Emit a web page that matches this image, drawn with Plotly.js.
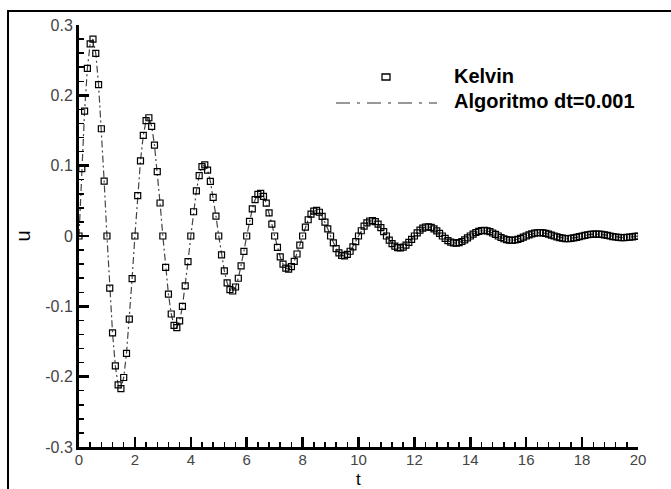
<!DOCTYPE html>
<html>
<head>
<meta charset="utf-8">
<script src="https://cdn.plot.ly/plotly-3.0.1.min.js"></script>
<style>html,body{margin:0;padding:0;background:#fff;}#chart{width:671px;height:489px;}</style>
</head>
<body>
<div id="chart"></div>
<script>
const tValues = [
0,0.1,0.2,0.3,0.4,0.5,0.6,0.7,0.8,0.9,
1,1.1,1.2,1.3,1.4,1.5,1.6,1.7,1.8,1.9,
2,2.1,2.2,2.3,2.4,2.5,2.6,2.7,2.8,2.9,
3,3.1,3.2,3.3,3.4,3.5,3.6,3.7,3.8,3.9,
4,4.1,4.2,4.3,4.4,4.5,4.6,4.7,4.8,4.9,
5,5.1,5.2,5.3,5.4,5.5,5.6,5.7,5.8,5.9,
6,6.1,6.2,6.3,6.4,6.5,6.6,6.7,6.8,6.9,
7,7.1,7.2,7.3,7.4,7.5,7.6,7.7,7.8,7.9,
8,8.1,8.2,8.3,8.4,8.5,8.6,8.7,8.8,8.9,
9,9.1,9.2,9.3,9.4,9.5,9.6,9.7,9.8,9.9,
10,10.1,10.2,10.3,10.4,10.5,10.6,10.7,10.8,10.9,
11,11.1,11.2,11.3,11.4,11.5,11.6,11.7,11.8,11.9,
12,12.1,12.2,12.3,12.4,12.5,12.6,12.7,12.8,12.9,
13,13.1,13.2,13.3,13.4,13.5,13.6,13.7,13.8,13.9,
14,14.1,14.2,14.3,14.4,14.5,14.6,14.7,14.8,14.9,
15,15.1,15.2,15.3,15.4,15.5,15.6,15.7,15.8,15.9,
16,16.1,16.2,16.3,16.4,16.5,16.6,16.7,16.8,16.9,
17,17.1,17.2,17.3,17.4,17.5,17.6,17.7,17.8,17.9,
18,18.1,18.2,18.3,18.4,18.5,18.6,18.7,18.8,18.9,
19,19.1,19.2,19.3,19.4,19.5,19.6,19.7,19.8,19.9,
20
];

const kelvinU = [
0, 0.0958, 0.1776, 0.2384, 0.2731, 0.2800, 0.2596, 0.2153, 0.1525, 0.0781,
0, -0.0742, -0.1377, -0.1847, -0.2117, -0.2170, -0.2012, -0.1668, -0.1181, -0.0605,
0, 0.0575, 0.1067, 0.1431, 0.1640, 0.1681, 0.1559, 0.1293, 0.0915, 0.0469,
0, -0.0446, -0.0827, -0.1109, -0.1271, -0.1303, -0.1208, -0.1002, -0.0709, -0.0364,
0, 0.0345, 0.0641, 0.0859, 0.0985, 0.1010, 0.0936, 0.0776, 0.0550, 0.0282,
0, -0.0268, -0.0496, -0.0666, -0.0763, -0.0782, -0.0725, -0.0601, -0.0426, -0.0218,
0, 0.0207, 0.0385, 0.0516, 0.0591, 0.0606, 0.0562, 0.0466, 0.0330, 0.0169,
0, -0.0161, -0.0298, -0.0400, -0.0458, -0.0470, -0.0436, -0.0361, -0.0256, -0.0131,
0, 0.0125, 0.0231, 0.0310, 0.0355, 0.0364, 0.0338, 0.0280, 0.0198, 0.0102,
0, -0.0097, -0.0179, -0.0240, -0.0275, -0.0282, -0.0262, -0.0217, -0.0154, -0.0079,
0, 0.0075, 0.0139, 0.0186, 0.0213, 0.0219, 0.0203, 0.0168, 0.0119, 0.0061,
0, -0.0058, -0.0108, -0.0144, -0.0165, -0.0169, -0.0157, -0.0130, -0.0092, -0.0047,
0, 0.0045, 0.0083, 0.0112, 0.0128, 0.0131, 0.0122, 0.0101, 0.0072, 0.0037,
0, -0.0035, -0.0065, -0.0087, -0.0099, -0.0102, -0.0094, -0.0078, -0.0055, -0.0028,
0, 0.0027, 0.0050, 0.0067, 0.0077, 0.0079, 0.0073, 0.0061, 0.0043, 0.0022,
0, -0.0021, -0.0039, -0.0052, -0.0060, -0.0061, -0.0057, -0.0047, -0.0033, -0.0017,
0, 0.0016, 0.0030, 0.0040, 0.0046, 0.0047, 0.0044, 0.0036, 0.0026, 0.0013,
0, -0.0013, -0.0023, -0.0031, -0.0036, -0.0037, -0.0034, -0.0028, -0.0020, -0.0010,
0, 0.0010, 0.0018, 0.0024, 0.0028, 0.0028, 0.0026, 0.0022, 0.0016, 0.0008,
0, -0.0008, -0.0014, -0.0019, -0.0022, -0.0022, -0.0020, -0.0017, -0.0012, -0.0006,
0
];

// The algorithm (dt=0.001) curve coincides with the Kelvin solution
const algoritmoU = kelvinU;

const xTickVals = [0, 2, 4, 6, 8, 10, 12, 14, 16, 18, 20];
const xTickText = ["0", "2", "4", "6", "8", "10", "12", "14", "16", "18", "20"];
const yTickVals = [-0.3, -0.2, -0.1, 0, 0.1, 0.2, 0.3];
const yTickText = ["-0.3", "-0.2", "-0.1", "0", "0.1", "0.2", "0.3"];

const legendNames = ["Kelvin", "Algoritmo dt=0.001"];
const xTitle = "t";
const yTitle = "u";

const FONT = "Liberation Sans, Arial, Helvetica, sans-serif";

const traces = [
  {
    x: tValues, y: algoritmoU, type: "scatter", mode: "lines",
    name: legendNames[1], showlegend: false,
    line: {color: "#444", width: 1.2, dash: "7px,3px,2px,3px"}
  },
  {
    x: tValues, y: kelvinU, type: "scatter", mode: "markers",
    name: legendNames[0], showlegend: false,
    marker: {symbol: "square-open", size: 6, color: "#000", line: {width: 1.2, color: "#000"}}
  }
];

// pixel helpers for legend placement (plot area: x 79..638, y 25..447)
const L = 79, R = 638, T = 25, B = 447;
const px = v => (v - L) / (R - L);
const py = v => (B - v) / (B - T);

const layout = {
  width: 671, height: 489,
  margin: {l: L, r: 671 - R, t: T, b: 489 - B},
  paper_bgcolor: "#fff", plot_bgcolor: "#fff",
  showlegend: false,
  font: {family: FONT, color: "#000"},
  xaxis: {
    range: [0, 20], tickvals: xTickVals, ticktext: xTickText,
    showgrid: false, zeroline: false,
    showline: true, linecolor: "#000", linewidth: 3,
    ticks: "inside", ticklen: 10, tickwidth: 2.5, tickcolor: "#000",
    ticklabelstandoff: -3,
    minor: {dtick: 0.4, ticks: "inside", ticklen: 5, tickwidth: 1.5, tickcolor: "#000", showgrid: false},
    tickfont: {family: FONT, size: 15, color: "#444"}
  },
  yaxis: {
    range: [-0.3, 0.3], tickvals: yTickVals, ticktext: yTickText,
    showgrid: false, zeroline: false,
    showline: true, linecolor: "#000", linewidth: 3,
    ticks: "inside", ticklen: 10, tickwidth: 2.5, tickcolor: "#000",
    minor: {dtick: 0.02, ticks: "inside", ticklen: 5, tickwidth: 1.5, tickcolor: "#000", showgrid: false},
    tickfont: {family: FONT, size: 16, color: "#444"},
    title: {text: yTitle, font: {family: FONT, size: 20, color: "#000"}, standoff: 10}
  },
  shapes: [
    // outer frame (left and top edges visible)
    {type: "rect", xref: "paper", yref: "paper",
     x0: px(8), x1: px(700), y0: py(520), y1: py(11),
     line: {color: "#000", width: 2}, fillcolor: "rgba(0,0,0,0)", layer: "below"},
    // legend: Kelvin marker
    {type: "rect", xref: "paper", yref: "paper",
     x0: px(382), x1: px(390), y0: py(80), y1: py(74),
     line: {color: "#000", width: 1.3}, fillcolor: "rgba(0,0,0,0)"},
    // legend: algorithm line sample
    {type: "line", xref: "paper", yref: "paper",
     x0: px(336), x1: px(437), y0: py(103), y1: py(103),
     line: {color: "#777", width: 1.5, dash: "14px,7px,3px,7px"}}
  ],
  annotations: [
    {xref: "paper", yref: "paper", x: px(452), y: py(76), xanchor: "left", yanchor: "middle",
     text: "<b>" + legendNames[0] + "</b>", showarrow: false,
     font: {family: FONT, size: 20, color: "#000"}},
    {xref: "paper", yref: "paper", x: px(452), y: py(101), xanchor: "left", yanchor: "middle",
     text: "<b>" + legendNames[1] + "</b>", showarrow: false,
     font: {family: FONT, size: 20, color: "#000"}},
    // x axis title
    {xref: "paper", yref: "paper", x: px(358.5), y: py(490), xanchor: "center", yanchor: "bottom",
     text: xTitle, showarrow: false, borderpad: 0,
     font: {family: FONT, size: 17, color: "#000"}}
  ]
};

Plotly.newPlot("chart", traces, layout, {displayModeBar: false, staticPlot: true});
</script>
</body>
</html>
